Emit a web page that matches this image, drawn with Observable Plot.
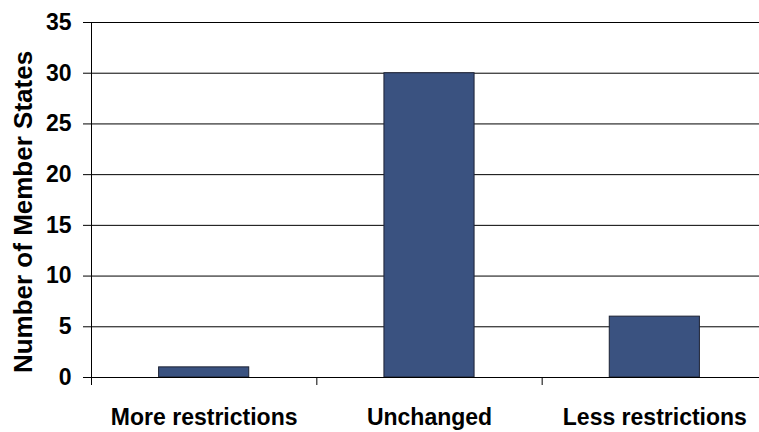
<!DOCTYPE html>
<html>
<head>
<meta charset="utf-8">
<script src="https://cdn.jsdelivr.net/npm/d3@7"></script>
<script src="https://cdn.jsdelivr.net/npm/@observablehq/plot@0.6"></script>
<style>
  html, body { margin: 0; padding: 0; background: #fff; overflow: hidden; }
  #chart { width: 759px; height: 432px; overflow: hidden; }
</style>
</head>
<body>
<div id="chart"></div>
<script>
const categories = ["More restrictions", "Unchanged", "Less restrictions"];
const values = [1, 30, 6];
const yTicks = [0, 5, 10, 15, 20, 25, 30, 35];
const yTitle = "Number of Member States";

const data = categories.map((c, i) => ({category: c, index: i, value: values[i]}));
const boundaries = categories.map((c, i) => i);
const centers = categories.map((c, i) => i + 0.5);

const chart = Plot.plot({
  width: 759,
  height: 432,
  marginTop: 22,
  marginBottom: 55,
  marginLeft: 91,
  marginRight: 0,
  style: {fontFamily: "'Liberation Sans', Arial, sans-serif", fontWeight: "bold", color: "#000", background: "#fff", overflow: "hidden"},
  x: {domain: [0, 3], range: [91, 767]},
  y: {domain: [0, 35]},
  marks: [
    Plot.gridY(yTicks, {stroke: "#000", strokeOpacity: 1, strokeWidth: 1}),
    Plot.rectY(data, {
      x1: d => d.index + 0.3,
      x2: d => d.index + 0.7,
      y1: 0,
      y2: "value",
      fill: "#3a5280",
      stroke: "#1c2233",
      strokeWidth: 1
    }),
    Plot.ruleX([0], {stroke: "#000"}),
    Plot.ruleY([0], {stroke: "#000"}),
    Plot.axisY({ticks: yTicks, tickSize: 8, tickPadding: 12, fontSize: 23, label: null, stroke: "#000"}),
    Plot.axisX({ticks: boundaries, tickSize: 8, tickFormat: () => "", label: null, stroke: "#000"}),
    Plot.axisX({ticks: centers, tickSize: 0, tickPadding: 31, fontSize: 23, label: null,
      tickFormat: v => categories[Math.floor(v)]}),
    Plot.text([yTitle], {frameAnchor: "left", rotate: -90, dx: -68, dy: 12, fontSize: 26, fontWeight: "bold", fill: "#000", lineAnchor: "middle", textAnchor: "middle"})
  ]
});
document.getElementById("chart").appendChild(chart);
</script>
</body>
</html>
